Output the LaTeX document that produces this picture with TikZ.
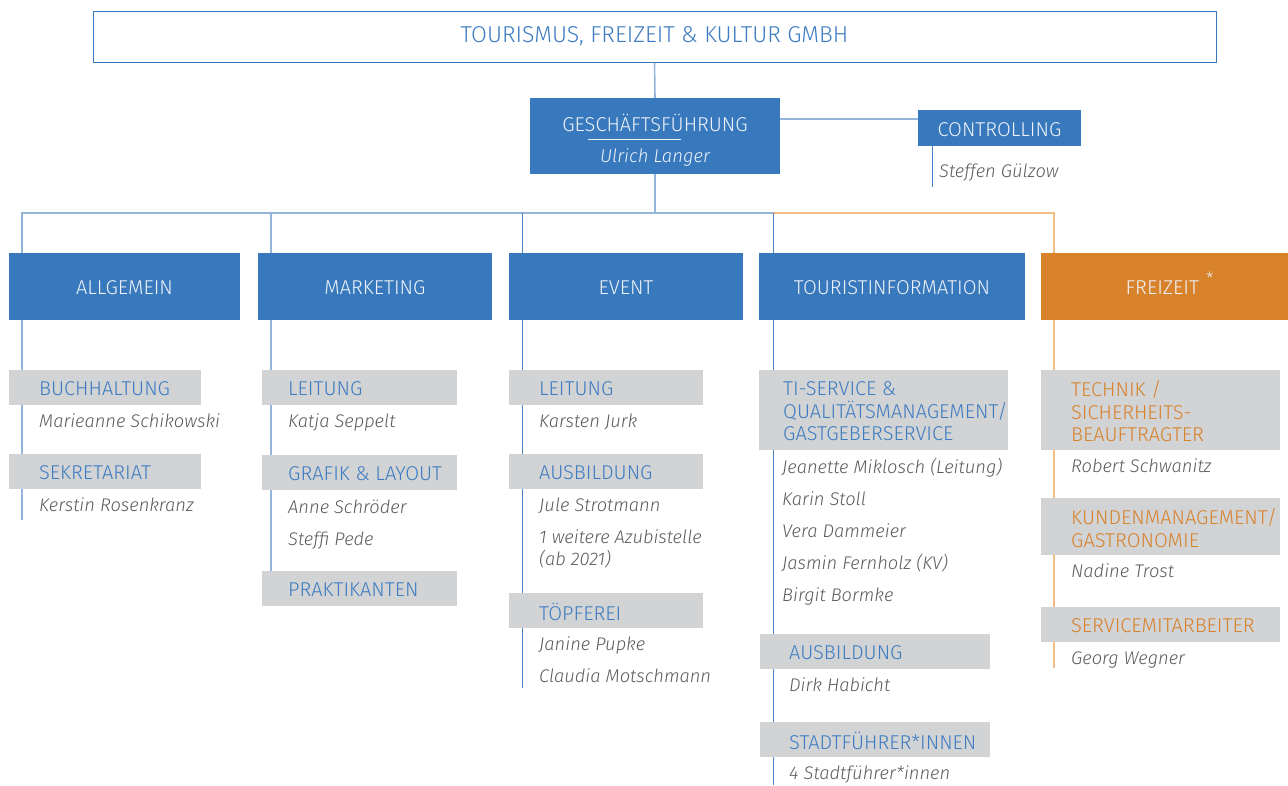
\documentclass[tikz,border=0pt]{standalone}
\usepackage{fontspec}
\setmainfont{Fira Sans}[UprightFont={* Light}, ItalicFont={* Light Italic}]
\usetikzlibrary{backgrounds}
\definecolor{cblue}{HTML}{3878BC}
\definecolor{lblue}{HTML}{93B5DC}
\definecolor{mblue}{HTML}{4A82C6}
\definecolor{corange}{HTML}{D8822C}
\definecolor{lorange}{HTML}{F2BC85}
\definecolor{cgray}{HTML}{D1D3D4}
\definecolor{tblue}{HTML}{3D7CC2}
\definecolor{tname}{HTML}{5A5A5A}
\definecolor{wtext}{HTML}{EEF3FA}
\tikzset{
  hbox/.style={fill=cblue, text=wtext, inner sep=0pt, text height=16pt, text depth=0pt, font=\fontsize{20}{23}\selectfont},
  obox/.style={fill=corange, text=wtext, inner sep=0pt, text height=16pt, text depth=0pt, font=\fontsize{20}{23}\selectfont},
  gbox/.style={fill=cgray, inner sep=0pt, anchor=north west},
  glabel/.style={text=tblue, inner sep=0pt, anchor=west, align=left, font=\fontsize{20}{22.8}\selectfont},
  olabel/.style={glabel, text=corange},
  pname/.style={text=tname, inner sep=0pt, anchor=west, align=left, text height=17pt, text depth=1.5pt, font=\fontsize{18.3}{22}\selectfont\itshape},
  bline/.style={draw=lblue, line width=1.6pt},
  dline/.style={draw=mblue, line width=1pt},
  oline/.style={draw=lorange, line width=1.6pt},
}
\begin{document}
\begin{tikzpicture}[x=1pt,y=-1pt]
\useasboundingbox (0,0) rectangle (1288,785);

% top
\node[draw=cblue, line width=1pt, minimum width=1123pt, minimum height=51pt, inner sep=0pt, text=tblue, font=\fontsize{23}{26}\selectfont] (top) at (654.5,36.5) {TOURISMUS, FREIZEIT \& KULTUR GMBH};

\node[hbox, minimum width=250pt, minimum height=76pt] (gf) at (655,136) {};
\node[text=wtext, inner sep=0pt, font=\fontsize{20}{23}\selectfont] (gft) at (655,123) {GESCHÄFTSFÜHRUNG};
\node[text=wtext, inner sep=0pt, font=\fontsize{18.5}{22}\selectfont\itshape] (gfn) at (655,157.5) {Ulrich Langer};
\draw[draw=wtext, line width=0.8pt] (588,139) -- (681,139);

\node[hbox, minimum width=163pt, minimum height=36pt] (ctrl) at (999.5,128) {CONTROLLING};
\node[pname] (ctrln) at (939,170) {Steffen Gülzow};
\coordinate (ctrlend) at (932,187);

% headers
\node[hbox, minimum width=231pt, minimum height=67pt] (allg) at (124.5,286.5) {ALLGEMEIN};
\node[hbox, minimum width=234pt, minimum height=67pt] (mark) at (375,286.5) {MARKETING};
\node[hbox, minimum width=234pt, minimum height=67pt] (event) at (626,286.5) {EVENT};
\node[hbox, minimum width=266pt, minimum height=67pt] (ti) at (892,286.5) {TOURISTINFORMATION};
\node[obox, minimum width=247pt, minimum height=67pt] (frei) at (1164.5,286.5) {\hspace*{10pt}FREIZEIT\hspace{7pt}\raisebox{1.0ex}{\fontsize{17}{17}\selectfont *}};

\coordinate (busy) at (655,213);
\coordinate (xa) at (22,213);
\coordinate (xm) at (271,213);
\coordinate (xe) at (522,213);
\coordinate (xt) at (773,213);
\coordinate (xf) at (1054,213);

% ALLGEMEIN column
\node[gbox, minimum width=192pt, minimum height=35pt] (a1) at (9,370) {};
\node[glabel] (a1t) at ([xshift=30pt,yshift=-1pt]a1.west) {BUCHHALTUNG};
\node[pname] (a1n) at (39,420) {Marieanne Schikowski};
\node[gbox, minimum width=192pt, minimum height=35pt] (a2) at (9,454) {};
\node[glabel] (a2t) at ([xshift=30pt,yshift=-1pt]a2.west) {SEKRETARIAT};
\node[pname] (a2n) at (39,504) {Kerstin Rosenkranz};
\coordinate (aend) at (22,520);

% MARKETING column
\node[gbox, minimum width=195pt, minimum height=35pt] (m1) at (262,370) {};
\node[glabel] (m1t) at ([xshift=26pt,yshift=-1pt]m1.west) {LEITUNG};
\node[pname] (m1n) at (288,420) {Katja Seppelt};
\node[gbox, minimum width=195pt, minimum height=35pt] (m2) at (262,455) {};
\node[glabel] (m2t) at ([xshift=26pt,yshift=-1pt]m2.west) {GRAFIK \& LAYOUT};
\node[pname] (m2n) at (288,506) {Anne Schröder};
\node[pname] (m3n) at (288,538) {Steffi Pede};
\node[gbox, minimum width=195pt, minimum height=35pt] (m3) at (262,571) {};
\node[glabel] (m3t) at ([xshift=26pt,yshift=-1pt]m3.west) {PRAKTIKANTEN};
\coordinate (mend) at (271,571);

% EVENT column
\node[gbox, minimum width=194pt, minimum height=35pt] (e1) at (509,370) {};
\node[glabel] (e1t) at ([xshift=30pt,yshift=-1pt]e1.west) {LEITUNG};
\node[pname] (e1n) at (539,420) {Karsten Jurk};
\node[gbox, minimum width=194pt, minimum height=35pt] (e2) at (509,454) {};
\node[glabel] (e2t) at ([xshift=30pt,yshift=-1pt]e2.west) {AUSBILDUNG};
\node[pname] (e2n) at (539,504) {Jule Strotmann};
\node[pname] (e3n) at (539,536) {1 weitere Azubistelle};
\node[pname] (e3m) at (539,558) {(ab 2021)};
\node[gbox, minimum width=194pt, minimum height=35pt] (e3) at (509,593) {};
\node[glabel] (e3t) at ([xshift=30pt,yshift=-1pt]e3.west) {TÖPFEREI};
\node[pname] (e4n) at (539,643) {Janine Pupke};
\node[pname] (e5n) at (539,675) {Claudia Motschmann};
\coordinate (eend) at (522,688);

% TOURISTINFORMATION column
\node[gbox, minimum width=249pt, minimum height=80pt] (t1) at (759,370) {};
\node[glabel] (t1t) at ([xshift=24pt,yshift=-1pt]t1.west) {TI-SERVICE \&\\QUALITÄTSMANAGEMENT/\\GASTGEBERSERVICE};
\node[pname] (t1n) at (782,466) {Jeanette Miklosch (Leitung)};
\node[pname] (t2n) at (782,498) {Karin Stoll};
\node[pname] (t3n) at (782,530) {Vera Dammeier};
\node[pname] (t4n) at (782,562) {Jasmin Fernholz (KV)};
\node[pname] (t5n) at (782,594) {Birgit Bormke};
\node[gbox, minimum width=230pt, minimum height=35pt] (t2) at (760,634) {};
\node[glabel] (t2t) at ([xshift=29pt,yshift=-1pt]t2.west) {AUSBILDUNG};
\node[pname] (t6n) at (789,684) {Dirk Habicht};
\node[gbox, minimum width=230pt, minimum height=35pt] (t3) at (760,722) {};
\node[glabel] (t3t) at ([xshift=29pt,yshift=-1pt]t3.west) {STADTFÜHRER*INNEN};
\node[pname] (t7n) at (789,772) {4 Stadtführer*innen};
\coordinate (tend) at (773,785);

% FREIZEIT column
\node[gbox, minimum width=239pt, minimum height=80pt] (f1) at (1041,370) {};
\node[olabel] (f1t) at ([xshift=30pt,yshift=-1pt]f1.west) {TECHNIK /\\SICHERHEITS-\\BEAUFTRAGTER};
\node[pname] (f1n) at (1071,465) {Robert Schwanitz};
\node[gbox, minimum width=239pt, minimum height=57pt] (f2) at (1041,498) {};
\node[olabel] (f2t) at ([xshift=30pt,yshift=-1pt]f2.west) {KUNDENMANAGEMENT/\\GASTRONOMIE};
\node[pname] (f2n) at (1071,570) {Nadine Trost};
\node[gbox, minimum width=239pt, minimum height=35pt] (f3) at (1041,607) {};
\node[olabel] (f3t) at ([xshift=30pt,yshift=-1pt]f3.west) {SERVICEMITARBEITER};
\node[pname] (f3n) at (1071,657) {Georg Wegner};
\coordinate (fend) at (1054,668);

\begin{scope}[on background layer]
  \draw[bline] (top.south) -- (gf.north);
  \draw[bline] ([yshift=9pt]ctrl.west) -- ([yshift=9pt]ctrl.west -| gf.east);
  \draw[dline] (ctrl.south -| ctrlend) -- (ctrlend);
  \draw[bline] (gf.south) -- (busy);
  \draw[bline] (allg.north -| xa) -- (xa) -- (xt);
  \draw[oline] (xt) -- (xf) -- (frei.north -| xf);
  \draw[bline] (xm) -- (mark.north -| xm);
  \draw[dline] (xe) -- (event.north -| xe);
  \draw[dline] (xt) -- (ti.north -| xt);
  \draw[bline] (allg.south -| aend) -- (aend);
  \draw[bline] (mark.south -| mend) -- (mend);
  \draw[dline] (event.south -| eend) -- (eend);
  \draw[dline] (ti.south -| tend) -- (tend);
  \draw[oline] (frei.south -| fend) -- (fend);
\end{scope}
\end{tikzpicture}
\end{document}
